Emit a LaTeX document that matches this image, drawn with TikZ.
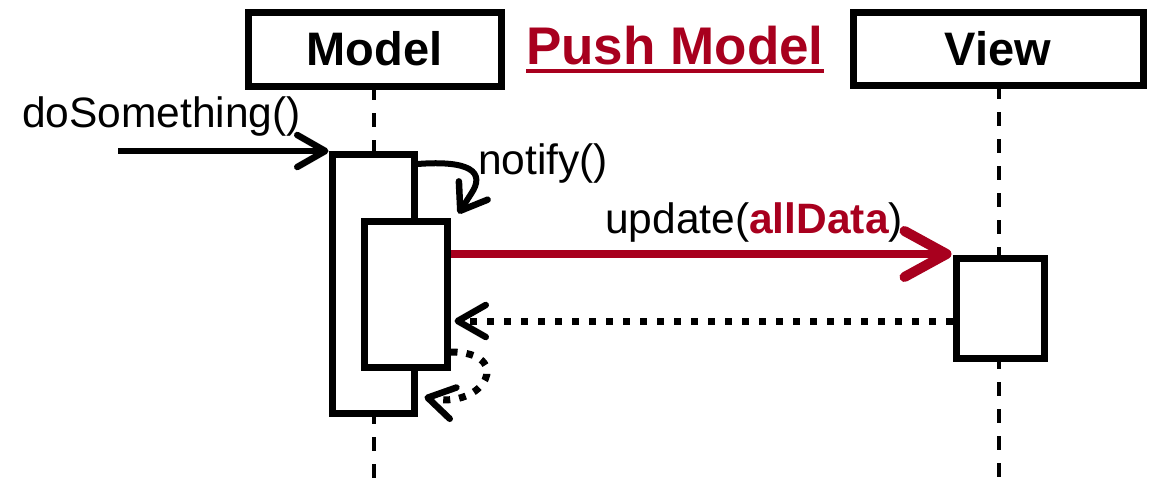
\documentclass[tikz,border=0pt]{standalone}
\usepackage{fontspec}
\setmainfont{Liberation Sans}
\usetikzlibrary{arrows.meta,calc}
\definecolor{cmured}{HTML}{A8001E}
\begin{document}
\begin{tikzpicture}[x=1pt,y=-1pt,
  objbox/.style={draw=black,line width=7pt,fill=white,inner sep=0pt,
    font=\fontsize{47}{50}\selectfont\bfseries},
  actbox/.style={draw=black,line width=7pt,fill=white,inner sep=0pt},
  lifeline/.style={line width=3.5pt,dash pattern=on 14pt off 13pt},
  lbl/.style={inner sep=0pt,anchor=base west,font=\fontsize{42.5}{48}\selectfont},
  callarrow/.style={line width=6pt,-{Straight Barb[length=28pt,width=32pt,line width=6.5pt,round]}},
  selfarrow/.style={line width=6pt,line join=round,-{Straight Barb[length=24pt,width=34pt,line width=6.5pt,round]}},
  pusharrow/.style={draw=cmured,line width=8.5pt,-{Straight Barb[length=42pt,width=46pt,line width=10pt,round]}},
  retarrow/.style={line width=7pt,dash pattern=on 7pt off 10pt,-{Straight Barb[length=28pt,width=32pt,line width=6.5pt,round]}},
  selfret/.style={line width=7pt,dash pattern=on 7pt off 9pt,-{Straight Barb[length=26pt,width=32pt,line width=6.5pt,round]}}
]
\useasboundingbox (0,0) rectangle (1164,482);
% lifelines
\draw[lifeline] (374,86) -- (374,482);
\draw[lifeline] (999,85) -- (999,482);
% header boxes
\node[objbox,minimum width=253pt,minimum height=74pt] (model) at (374.5,49) {Model};
\node[objbox,minimum width=290pt,minimum height=73pt] (view) at (998,48.5) {View};
% title
\node[inner sep=0pt,anchor=base west,text=cmured,font=\fontsize{53}{56}\selectfont\bfseries] (title) at (526,64) {Push Model};
\draw[cmured,line width=4pt] (title.south west |- 0,71) -- (title.south east |- 0,71);
% activations
\node[actbox,minimum width=82pt,minimum height=259pt] (act1) at (373,283.5) {};
\node[actbox,minimum width=83pt,minimum height=146pt] (act2) at (405.5,294) {};
\node[actbox,minimum width=88pt,minimum height=100pt] (act3) at (1000,308) {};
% labels
\node[lbl] (ldo) at (22,127) {doSomething()};
\node[lbl] (lnot) at (478,174) {notify()};
\node[lbl] (lupd) at (605,233) {update(\textcolor{cmured}{\bfseries allData})};
% coordinates
\coordinate (ds) at (118,151);
\coordinate (u) at (0,254);
\coordinate (r) at (0,321);
\coordinate (n0) at (0,164);
\coordinate (n1) at (471,194);
\coordinate (s0) at (0,352);
% connectors
\draw[callarrow] (ds) -- (ds -| act1.west);
\draw[selfarrow] (act1.east |- n0) .. controls (470,160) and (486,172) .. (n1) -- ($(act2.north east)+(8,-4)$);
\draw[pusharrow] (act2.east |- u) -- ($(act3.west |- u)+(-1,0)$);
\draw[retarrow] (act3.west |- r) -- ($(act2.east |- r)+(4,0)$);
\draw[selfret] (act2.east |- s0) .. controls (515,352) and (485,410) .. ($(act1.east |- 0,397)+(7,0)$);
\end{tikzpicture}
\end{document}
